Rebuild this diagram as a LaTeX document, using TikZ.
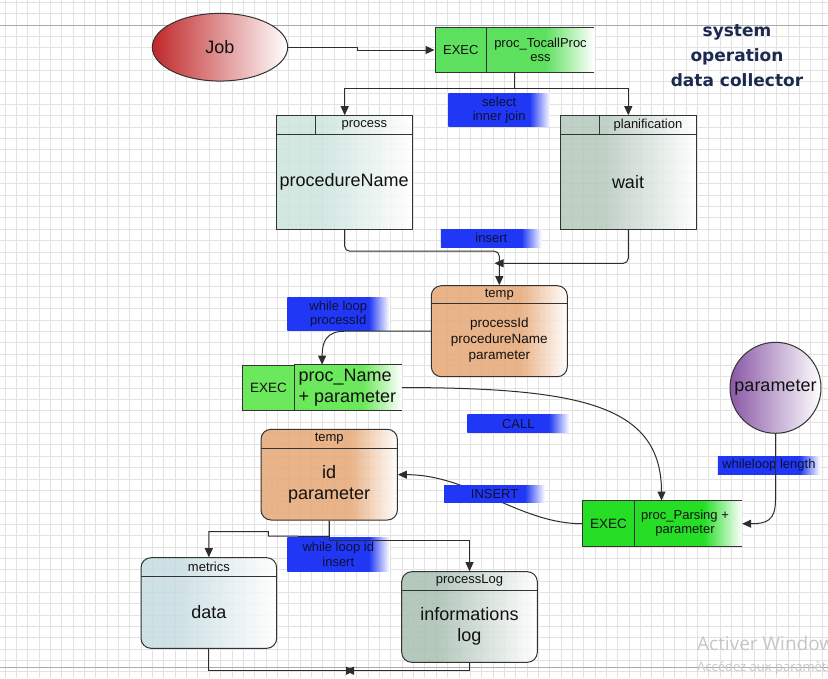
\documentclass[tikz,border=0pt]{standalone}
\usepackage{fontspec}
\setmainfont{Liberation Sans}
\newfontfamily\titlefont{DejaVu Sans}
\newfontfamily\wmfont{Open Sans}
\usetikzlibrary{arrows.meta,shapes.geometric,calc}

\definecolor{gridc}{RGB}{226,226,226}
\definecolor{pagec}{RGB}{170,170,170}
\definecolor{edgec}{RGB}{51,51,51}
\definecolor{linec}{RGB}{45,45,45}
\definecolor{txtc}{RGB}{17,17,17}
\definecolor{lbltext}{RGB}{15,15,50}
\definecolor{titlec}{RGB}{27,42,78}
\definecolor{wmc}{RGB}{198,198,198}
\definecolor{lblue}{RGB}{32,56,245}
\definecolor{jobred}{RGB}{192,40,42}
\definecolor{purp}{RGB}{138,88,166}
\definecolor{greenA}{RGB}{93,224,93}
\definecolor{greenB}{RGB}{108,232,92}
\definecolor{greenC}{RGB}{38,222,38}
\definecolor{orng}{RGB}{231,168,118}
\definecolor{tealc}{RGB}{205,228,222}
\definecolor{plangc}{RGB}{180,200,188}
\definecolor{metc}{RGB}{198,220,225}
\definecolor{logc}{RGB}{168,191,177}

\pgfdeclarehorizontalshading{lblshade}{100bp}{color(0bp)=(lblue); color(25bp)=(lblue); color(65bp)=(lblue); color(75bp)=(white); color(100bp)=(white)}
\pgfdeclarehorizontalshading{jobshade}{100bp}{color(0bp)=(jobred); color(25bp)=(jobred); color(75bp)=(white); color(100bp)=(white)}
\pgfdeclarehorizontalshading{parshade}{100bp}{color(0bp)=(purp); color(25bp)=(purp); color(75bp)=(white); color(100bp)=(white)}
\pgfdeclarehorizontalshading{eAshade}{100bp}{color(0bp)=(greenA); color(25bp)=(greenA); color(52bp)=(greenA); color(75bp)=(white); color(100bp)=(white)}
\pgfdeclarehorizontalshading{eBshade}{100bp}{color(0bp)=(greenB); color(25bp)=(greenB); color(57bp)=(greenB); color(75bp)=(white); color(100bp)=(white)}
\pgfdeclarehorizontalshading{eCshade}{100bp}{color(0bp)=(greenC); color(25bp)=(greenC); color(57bp)=(greenC); color(75bp)=(white); color(100bp)=(white)}
\pgfdeclarehorizontalshading{tmpshade}{100bp}{color(0bp)=(orng); color(25bp)=(orng); color(58bp)=(orng); color(75bp)=(white); color(100bp)=(white)}
\pgfdeclarehorizontalshading{procshade}{100bp}{color(0bp)=(tealc); color(25bp)=(tealc); color(42bp)=(tealc); color(75bp)=(white); color(100bp)=(white)}
\pgfdeclarehorizontalshading{planshade}{100bp}{color(0bp)=(plangc); color(25bp)=(plangc); color(40bp)=(plangc); color(75bp)=(white); color(100bp)=(white)}
\pgfdeclarehorizontalshading{metshade}{100bp}{color(0bp)=(metc); color(25bp)=(metc); color(38bp)=(metc); color(75bp)=(white); color(100bp)=(white)}
\pgfdeclarehorizontalshading{logshade}{100bp}{color(0bp)=(logc); color(25bp)=(logc); color(38bp)=(logc); color(75bp)=(white); color(100bp)=(white)}

\newcommand\fsz[2]{\fontsize{#1}{#2}\selectfont}

\tikzset{
  bx/.style={draw=edgec, line width=1pt, inner sep=0pt, fill opacity=0.85},
  rbx/.style={bx, rounded corners=10pt},
  cellbox/.style={draw=edgec, line width=1pt, inner sep=0pt},
  lbl/.style={inner sep=0pt, shading=lblshade, text=lbltext, align=center, font=\fsz{13}{14.5}},
  txt/.style={inner sep=0pt, text=txtc, align=center},
  txts/.style={font=\fsz{13}{15}},
  txtm/.style={font=\fsz{13.5}{15.8}},
  txtb/.style={font=\fsz{18}{20.7}},
  conn/.style={draw=linec, line width=1pt},
  arr/.style={-{Triangle[length=9pt,width=8pt]}},
  hline/.style={draw=edgec, line width=1pt},
}

\begin{document}
\begin{tikzpicture}[x=1pt,y=-1pt]
\useasboundingbox[fill=white] (0,0) rectangle (828,678);

% grid
\foreach \i in {0,...,72} {\draw[gridc, line width=1pt] ({5+11.35*\i},0) -- ({5+11.35*\i},678);}
\foreach \j in {0,...,59} {\draw[gridc, line width=1pt] (0,{2.3+11.35*\j}) -- (828,{2.3+11.35*\j});}
\draw[pagec, line width=1pt] (0,25.3) -- (828,25.3);
\draw[pagec, line width=1pt] (0,667.7) -- (828,667.7);

% title
\node[txt, text=titlec, font=\titlefont\bfseries\fsz{17}{25}] (title) at (737,56) {system\\operation\\data collector};

% labels (under connectors)
\node[lbl, minimum width=101.7pt, minimum height=33.4pt] (lblsel) at (499.2,110) {select\\inner join};
\node[lbl, minimum width=100.7pt, minimum height=18pt] (lblins) at (491.3,238.3) {insert};
\node[lbl, minimum width=102pt, minimum height=33.3pt] (lblwp) at (338.3,314.3) {while loop\\processId};
\node[lbl, minimum width=102pt, minimum height=17.7pt] (lblcall) at (518.3,423.8) {CALL};
\node[lbl, minimum width=102.3pt, minimum height=18.3pt] (lblwl) at (768.9,465.2) {whileloop length};
\node[lbl, minimum width=102pt, minimum height=34.4pt] (lblwi) at (338.3,554.5) {while loop id\\insert};

% Job
\node[ellipse, draw=edgec, line width=1pt, shading=jobshade, minimum width=135.4pt, minimum height=67.7pt, inner sep=0pt, text=txtc, font=\fsz{18}{20}] (job) at (220,47.2) {Job};

% EXEC 1
\node[inner sep=0pt, shading=eAshade, minimum width=107.3pt, minimum height=45.4pt] (exec1b) at (540.35,50) {};
\node[cellbox, fill=greenA, minimum width=51.7pt, minimum height=45.4pt, text=txtc, font=\fsz{13}{15}] (exec1a) at (460.85,50) {EXEC};
\draw[hline] (exec1b.north west) -- (exec1b.north east);
\draw[hline] (exec1b.south west) -- (exec1b.south east);
\node[txt, txts, font=\fsz{13}{14.4}] (exec1t) at (540.5,50) {proc\_TocallProc\\ess};

% process
\node[bx, shading=procshade, minimum width=136pt, minimum height=113.3pt] (process) at (344.7,172.35) {};
\draw[hline] ([yshift=-19.3pt]process.north west) -- ([yshift=-19.3pt]process.north east);
\draw[hline] ([xshift=39.3pt]process.north west) -- ([xshift=39.3pt,yshift=-19.3pt]process.north west);
\node[txt, txts] (processH) at (364.3,125.4) {process};
\node[txt, txtb] (processT) at (344.2,181.7) {procedureName};

% planification
\node[bx, shading=planshade, minimum width=136pt, minimum height=113.3pt] (plan) at (628.3,172.35) {};
\draw[hline] ([yshift=-19.3pt]plan.north west) -- ([yshift=-19.3pt]plan.north east);
\draw[hline] ([xshift=39.3pt]plan.north west) -- ([xshift=39.3pt,yshift=-19.3pt]plan.north west);
\node[txt, txts] (planH) at (648,125.4) {planification};
\node[txt, txtb] (planT) at (628,181.7) {wait};

% temp 1
\node[rbx, shading=tmpshade, minimum width=136pt, minimum height=91pt] (temp1) at (499.3,331.2) {};
\draw[hline] ([yshift=-18.6pt]temp1.north west) -- ([yshift=-18.6pt]temp1.north east);
\node[txt, txts] (temp1H) at (499.3,295) {temp};
\node[txt, txtm] (temp1T) at (499.3,340) {processId\\procedureName\\parameter};

% EXEC 2
\node[inner sep=0pt, shading=eBshade, minimum width=107.4pt, minimum height=45pt] (exec2b) at (348,387.5) {};
\node[cellbox, fill=greenB, minimum width=51.6pt, minimum height=45pt, text=txtc, font=\fsz{13.5}{15}] (exec2a) at (268.5,387.5) {EXEC};
\draw[hline] (exec2b.north west) -- (exec2b.north east);
\draw[hline] (exec2b.south west) -- (exec2b.south east);
\node[txt, txtb, align=left, anchor=west] (exec2t) at (298.5,387.5) {proc\_Name\\+ parameter};

% temp 2
\node[rbx, shading=tmpshade, minimum width=136.4pt, minimum height=90.7pt] (temp2) at (329.2,474.65) {};
\draw[hline] ([yshift=-20pt]temp2.north west) -- ([yshift=-20pt]temp2.north east);
\node[txt, txts] (temp2H) at (329.2,438.8) {temp};
\node[txt, txtb, font=\fsz{18}{21}] (temp2T) at (329.2,484) {id\\parameter};

% parameter circle
\node[circle, draw=edgec, line width=1pt, shading=parshade, minimum size=91pt, inner sep=0pt, text=txtc, font=\fsz{18}{20}] (param) at (775.5,387.8) {parameter};

% EXEC 3
\node[inner sep=0pt, shading=eCshade, minimum width=107.6pt, minimum height=46pt] (exec3b) at (688.2,523.7) {};
\node[cellbox, fill=greenC, minimum width=51.6pt, minimum height=46pt, text=txtc, font=\fsz{13.5}{15}] (exec3a) at (608.6,523.7) {EXEC};
\draw[hline] (exec3b.north west) -- (exec3b.north east);
\draw[hline] (exec3b.south west) -- (exec3b.south east);
\node[txt, txts, font=\fsz{13}{14}] (exec3t) at (685,523.5) {proc\_Parsing +\\parameter};

% metrics
\node[rbx, shading=metshade, minimum width=135.7pt, minimum height=90.6pt] (metrics) at (208.85,603) {};
\draw[hline] ([yshift=-19.6pt]metrics.north west) -- ([yshift=-19.6pt]metrics.north east);
\node[txt, txts] (metricsH) at (208.9,566.5) {metrics};
\node[txt, txtb] (metricsT) at (208.9,611.7) {data};

% processLog
\node[rbx, shading=logshade, minimum width=135.6pt, minimum height=90.6pt] (plog) at (469.5,617) {};
\draw[hline] ([yshift=-19.3pt]plog.north west) -- ([yshift=-19.3pt]plog.north east);
\node[txt, txts] (plogH) at (469.5,580.5) {processLog};
\node[txt, txtb] (plogT) at (469.5,626.5) {informations\\log};

% connectors
\draw[conn,arr] (job.east) -- ++(69,0) |- (exec1a.west);
\coordinate (e1out) at ([xshift=28.3pt]exec1b.south west);
\coordinate (split) at ($(e1out)+(0,16)$);
\draw[conn] (e1out) -- (split);
\draw[conn,arr] (split) -| (process.north);
\draw[conn,arr] (split) -| (plan.north);

\draw[conn,arr,rounded corners=5pt] (process.south) |- ($(temp1.north)+(0,-34)$) -- (temp1.north);
\coordinate (joinpt) at (494.5,263.3);
\draw[conn,arr,rounded corners=5pt] (plan.south) |- (joinpt);

\coordinate (e2in) at ($(exec2a.north west)!0.5!(exec2b.north east)$);
\draw[conn,arr] (temp1.west) -- (345,331.2) .. controls (326,331.2) and (322.2,342) .. (e2in);

\coordinate (e3in) at ([xshift=27.3pt]exec3b.north west);
\draw[conn,arr] (exec2b.east) .. controls (580,388) and ($(e3in)+(0,-96)$) .. (e3in);

\draw[conn,arr] (exec3a.west) .. controls (520,524) and (470,474.65) .. (temp2.east);

\draw[conn,arr] (param.south) -- (775.5,500) .. controls (775.5,521) and (766,523.7) .. (exec3b.east);

\draw[conn,arr] (temp2.south) -- ++(0,16) -- (268.3,536) -- (268.3,531.5) -| (metrics.north);
\draw[conn,arr] (temp2.south) -- ++(0,20) -| (plog.north);

\coordinate (bowL) at (355,670.7);
\coordinate (bowR) at (345,670.7);
\draw[conn,arr] (metrics.south) |- (bowL);
\draw[conn,arr] (plog.south) |- (bowR);

% label over connector
\node[lbl, minimum width=100.8pt, minimum height=17.3pt] (lblINS) at (494.6,493.7) {INSERT};

% watermark
\node[anchor=west, inner sep=0pt, text=wmc, font=\wmfont\fsz{19}{22}] (wm1) at (697,643) {Activer Windows};
\node[anchor=west, inner sep=0pt, text=wmc, font=\wmfont\fsz{13}{15}] (wm2) at (697,668) {Accédez aux paramètres pour activer Windows.};
\end{tikzpicture}
\end{document}
